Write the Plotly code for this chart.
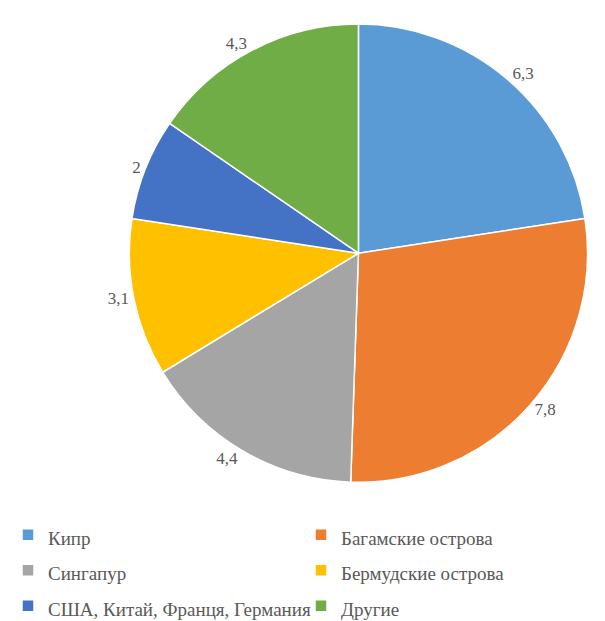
import plotly.graph_objects as go

labels = ["Кипр", "Багамские острова", "Сингапур", "Бермудские острова",
          "США, Китай, Франця, Германия", "Другие"]
values = [6.3, 7.8, 4.4, 3.1, 2, 4.3]
value_text = ["6,3", "7,8", "4,4", "3,1", "2", "4,3"]
colors = ["#5B9BD5", "#ED7D31", "#A5A5A5", "#FFC000", "#4472C4", "#70AD47"]

SERIF = "Liberation Serif, Times New Roman, serif"

legend_labels = ['<span style="font-size:19px">%s</span>' % s for s in labels]

fig = go.Figure(go.Pie(
    labels=legend_labels,
    values=values,
    text=value_text,
    textinfo="text",
    textposition="outside",
    sort=False,
    direction="clockwise",
    rotation=0,
    marker=dict(colors=colors, line=dict(color="white", width=1.5)),
    textfont=dict(family=SERIF, size=17, color="#595959"),
    domain=dict(x=[0.187, 0.987], y=[0.24, 0.99]),
    hoverinfo="value",
))

fig.update_layout(
    width=605, height=621,
    margin=dict(l=0, r=0, t=10, b=0),
    paper_bgcolor="white",
    showlegend=True,
    legend=dict(
        orientation="h",
        x=0.0, xanchor="left",
        y=0.0, yanchor="bottom",
        entrywidth=248, entrywidthmode="pixels",
        font=dict(family=SERIF, size=25, color="#595959"),
        itemwidth=30,
    ),
)

fig.write_html("out.html")
